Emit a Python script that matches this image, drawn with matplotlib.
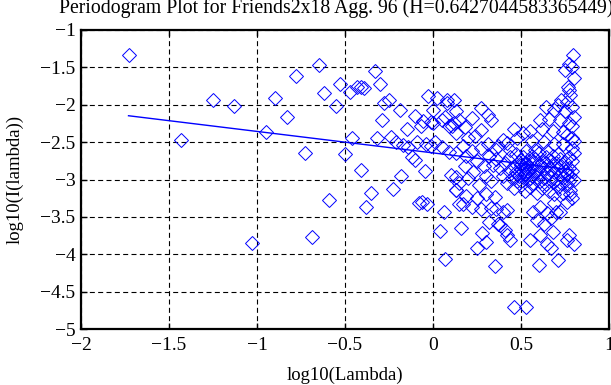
import matplotlib
matplotlib.use("Agg")
import matplotlib.pyplot as plt

plt.rcParams["font.family"] = ["Liberation Serif", "DejaVu Serif"]

# periodogram points (log10(lambda), log10(I(lambda)))
low_x = [-1.73, -1.43, -1.25, -1.13, -1.03, -0.95, -0.90, -0.83, -0.78, -0.73,
         -0.69, -0.65, -0.62, -0.59, -0.55, -0.53, -0.50, -0.47, -0.46, -0.43,
         -0.41, -0.41, -0.39, -0.38, -0.35, -0.33, -0.32, -0.30, -0.29, -0.28,
         -0.25, -0.24, -0.23, -0.21, -0.19, -0.18, -0.17, -0.15, -0.14, -0.12,
         -0.10, -0.10, -0.09, -0.08, -0.07, -0.06, -0.055, -0.045, -0.04, -0.035,
         -0.03, -0.01, -0.01, 0.00, 0.00, 0.01, 0.02, 0.04, 0.05, 0.05,
         0.06, 0.07, 0.08, 0.09, 0.10, 0.11, 0.13, 0.13, 0.13, 0.13]
low_y = [-1.33, -2.47, -1.93, -2.02, -3.85, -2.36, -1.91, -2.17, -1.62, -2.64,
         -3.77, -1.47, -1.84, -3.27, -2.02, -1.72, -2.66, -1.83, -2.44, -1.76,
         -1.76, -2.87, -1.77, -3.37, -3.18, -1.55, -2.45, -1.72, -2.21, -1.98,
         -1.94, -2.43, -3.13, -2.50, -2.07, -2.95, -2.54, -2.33, -2.56, -2.70,
         -2.74, -2.15, -2.50, -3.31, -2.29, -3.30, -2.22, -2.88, -2.52, -3.33,
         -1.88, -2.23, -2.55, -2.07, -2.25, -2.50, -1.91, -3.69, -2.21, -2.56,
         -3.43, -4.07, -1.94, -2.63, -2.94, -2.29, -2.65, -2.96, -3.14, -2.38]

mid_x = [0.08, 0.12, 0.07, 0.13, 0.15, 0.12, 0.09, 0.22, 0.27, 0.31,
         0.33, 0.27, 0.18, 0.20, 0.24, 0.46, 0.51, 0.40, 0.42, 0.37,
         0.35, 0.48, 0.44, 0.17, 0.19, 0.22, 0.25, 0.23, 0.27, 0.29,
         0.30, 0.32, 0.33, 0.20, 0.26, 0.18, 0.31, 0.34, 0.15, 0.13,
         0.17, 0.22, 0.27, 0.33, 0.15, 0.16, 0.32, 0.36, 0.40, 0.28,
         0.30, 0.25, 0.37, 0.41, 0.44, 0.42, 0.35, 0.38, 0.42, 0.19,
         0.25, 0.30, 0.35]
mid_y = [-1.98, -1.93, -2.16, -2.09, -2.21, -2.25, -2.29, -2.18, -2.04, -2.14,
         -2.21, -2.34, -2.30, -2.45, -2.42, -2.32, -2.38, -2.47, -2.51, -2.55,
         -2.59, -2.45, -2.60, -2.55, -2.68, -2.62, -2.75, -2.90, -2.58, -2.82,
         -2.95, -2.68, -3.02, -2.98, -3.08, -2.82, -2.52, -2.80, -3.05, -3.14,
         -3.33, -3.37, -3.40, -3.38, -3.33, -3.65, -3.57, -3.39, -3.43, -3.72,
         -3.83, -3.92, -3.59, -3.68, -3.81, -3.74, -4.16, -3.61, -3.41, -3.22,
         -3.25, -3.20, -3.24]

high_x = [0.797, 0.77, 0.79, 0.75, 0.80, 0.765, 0.77, 0.78, 0.76, 0.73,
          0.79, 0.71, 0.64, 0.69, 0.75, 0.80, 0.61, 0.66, 0.72, 0.77,
          0.79, 0.55, 0.62, 0.68, 0.74, 0.76, 0.79, 0.80, 0.56, 0.63,
          0.69, 0.74, 0.79, 0.80, 0.58, 0.65, 0.71, 0.77, 0.79,
          0.36, 0.38, 0.40, 0.41, 0.42, 0.43, 0.44, 0.45, 0.46, 0.46,
          0.47, 0.48, 0.48, 0.49, 0.50, 0.50, 0.51, 0.51, 0.52, 0.52,
          0.53, 0.53, 0.54, 0.54, 0.55, 0.55, 0.56, 0.56, 0.57, 0.57,
          0.58, 0.58, 0.59, 0.59, 0.60, 0.60, 0.61, 0.61, 0.62, 0.62,
          0.63, 0.63, 0.64, 0.64, 0.65, 0.65, 0.66, 0.66, 0.67, 0.67,
          0.68, 0.68, 0.69, 0.69, 0.70, 0.70, 0.71, 0.71, 0.72, 0.72,
          0.73, 0.73, 0.74, 0.74, 0.75, 0.75, 0.76, 0.76, 0.77, 0.77,
          0.78, 0.78, 0.79, 0.80,
          0.50, 0.51, 0.52, 0.53, 0.49, 0.52, 0.54, 0.50, 0.47, 0.55,
          0.46, 0.53, 0.57, 0.61, 0.65, 0.59, 0.63, 0.55, 0.61, 0.65,
          0.68, 0.67, 0.71, 0.60, 0.70, 0.77, 0.80, 0.78, 0.76, 0.79,
          0.69, 0.72, 0.67, 0.76]
high_y = [-1.34, -1.45, -1.49, -1.54, -1.64, -1.76, -1.80, -1.87, -1.96, -1.94,
          -2.03, -2.00, -2.03, -2.07, -2.09, -2.16, -2.21, -2.19, -2.21, -2.24,
          -2.28, -2.35, -2.33, -2.35, -2.37, -2.40, -2.44, -2.49, -2.48, -2.50,
          -2.53, -2.52, -2.58, -2.64, -2.60, -2.62, -2.66, -2.70, -2.75,
          -2.72, -2.85, -2.95, -2.78, -3.05, -2.88, -2.70, -2.98, -3.12, -2.82,
          -2.66, -2.92, -3.02, -2.76, -2.86, -3.08, -2.70, -2.96, -2.80, -3.15,
          -2.90, -2.62, -3.00, -2.74, -2.84, -3.10, -2.95, -2.68, -2.78, -3.05,
          -2.88, -2.72, -3.18, -2.97, -2.82, -2.65, -3.02, -2.90, -2.76, -3.12,
          -2.85, -2.98, -2.70, -3.06, -2.92, -2.80, -3.15, -2.74, -2.96, -2.86,
          -3.04, -2.68, -2.90, -3.20, -2.78, -3.00, -2.84, -3.10, -2.94, -2.72,
          -3.05, -2.82, -2.98, -3.18, -2.88, -2.76, -3.08, -2.92, -2.84, -3.02,
          -2.95, -3.14, -2.88, -3.00,
          -2.80, -2.88, -2.92, -2.78, -2.95, -2.84, -2.88, -2.74, -2.90, -2.98,
          -4.71, -4.71, -3.43, -3.37, -3.45, -3.54, -3.59, -3.81, -3.74, -3.86,
          -3.70, -3.92, -4.08, -4.15, -3.43, -3.74, -3.86, -3.19, -3.30, -3.25,
          -3.32, -3.43, -3.52, -3.81]

# least squares line shown in the plot
fit_x = [-1.73, 0.80]
fit_y = [-2.147, -2.874]

px = low_x + mid_x + high_x
py = low_y + mid_y + high_y

fig = plt.figure(figsize=(6.11, 3.85), dpi=100)
ax = fig.add_axes([81 / 611, 56 / 385, 528 / 611, 299 / 385])

ax.plot(px, py, linestyle="none", marker="D", markersize=7.4,
        markerfacecolor="none", markeredgecolor="#0000ff", markeredgewidth=0.7)
ax.plot(fit_x, fit_y, color="#0000ff", linewidth=1.0)

ax.set_xlim(-2, 1)
ax.set_ylim(-5, -1)
ax.set_xticks([-2, -1.5, -1, -0.5, 0, 0.5, 1])
ax.set_yticks([-5, -4.5, -4, -3.5, -3, -2.5, -2, -1.5, -1])
ax.set_xticklabels(["\u22122", "\u22121.5", "\u22121", "\u22120.5", "0", "0.5", "1"])
ax.set_yticklabels(["\u22125", "\u22124.5", "\u22124", "\u22123.5", "\u22123",
                    "\u22122.5", "\u22122", "\u22121.5", "\u22121"])
ax.grid(True, color="black", linestyle=(0, (4.5, 3)), linewidth=0.8)
ax.tick_params(direction="in", top=True, right=True, length=4.5, width=1,
               labelsize=14, pad=4)
ax.tick_params(axis="x", pad=6)
for s in ax.spines.values():
    s.set_linewidth(1.6)

ax.set_xlabel("log10(Lambda)", fontsize=13.5, labelpad=9)
ax.set_ylabel("log10(I(lambda))", fontsize=13.5, labelpad=12)

fig.text(59 / 611, 1 - 13 / 385,
         "Periodogram Plot for Friends2x18 Agg. 96 (H=0.6427044583365449)",
         fontsize=14.2, ha="left", va="baseline")

fig.savefig("out.png", dpi=100)
